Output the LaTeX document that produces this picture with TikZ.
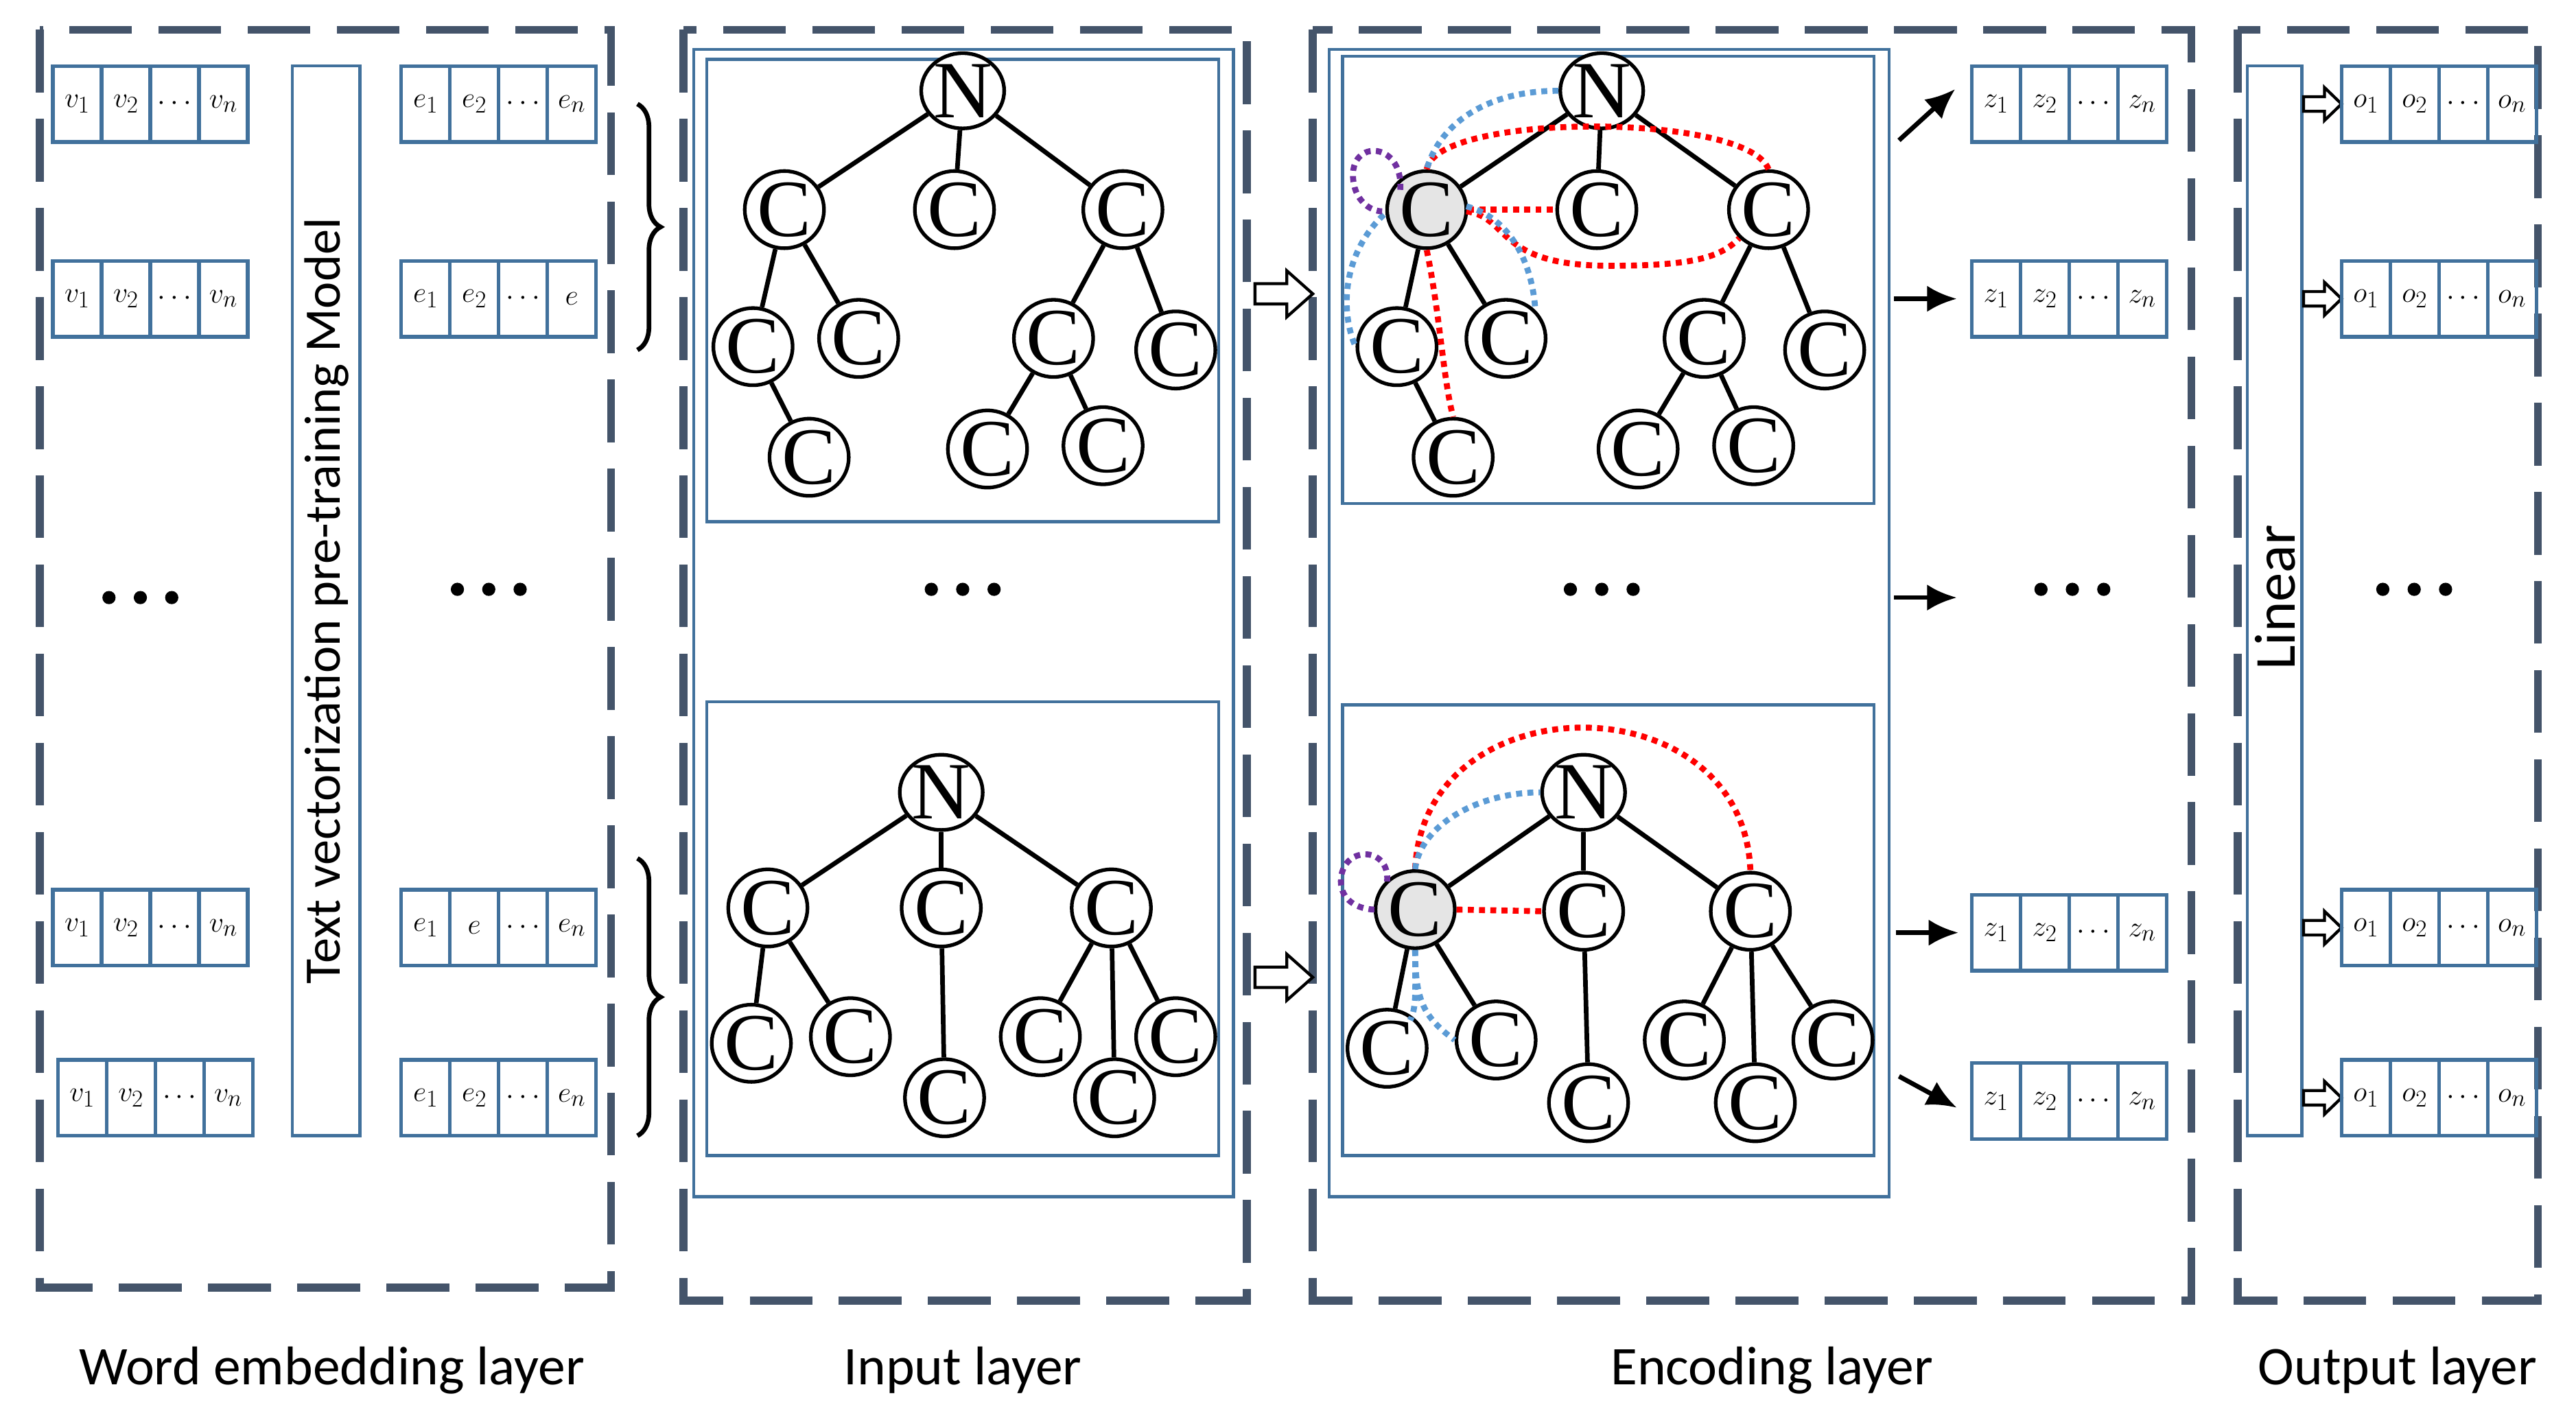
\documentclass[tikz,border=0pt]{standalone}
\usepackage{fontspec}
\setmainfont{Carlito}
\newfontfamily\serifC{Liberation Serif}
\usetikzlibrary{shapes.geometric,decorations.pathreplacing,arrows.meta}
\definecolor{boxblue}{RGB}{65,113,156}
\definecolor{dashgray}{RGB}{68,84,106}
\definecolor{dred}{RGB}{255,0,0}
\definecolor{dblue}{RGB}{91,155,213}
\definecolor{dpurple}{RGB}{112,48,160}
\begin{document}
\begin{tikzpicture}[x=0.5mm,y=-0.5mm,
  layer/.style={draw=dashgray,line width=2.4mm,dash pattern=on 19mm off 8mm},
  bbox/.style={draw=boxblue,line width=0.9mm},
  cell/.style={draw=boxblue,line width=1.1mm,minimum width=14.75mm,minimum height=23mm,inner sep=0pt,font=\fontsize{30}{30}\selectfont},
  tn/.style={ellipse,draw,line width=1.1mm,minimum width=24mm,minimum height=22.5mm,inner sep=0pt,fill=white,font=\serifC\fontsize{70}{70}\selectfont},
  hl/.style={tn,fill=black!10},
  te/.style={line width=1.4mm},
  dt/.style={line width=1.8mm,dash pattern=on 1.8mm off 1.6mm},
  lab/.style={font=\fontsize{47}{47}\selectfont},
  bar/.style={-{Latex[length=9mm,width=8mm]},line width=1.4mm},
  brc/.style={decorate,decoration={brace,amplitude=7mm},line width=1.4mm}]
\useasboundingbox (0,0) rectangle (1560,860);
\newcommand\row[7]{% name x y a b c d
  \node[cell] (#1a) at (#2+14.75,#3) {#4};
  \node[cell] (#1b) at (#2+44.25,#3) {#5};
  \node[cell] (#1c) at (#2+73.75,#3) {#6};
  \node[cell] (#1d) at (#2+103.25,#3) {#7};}
\newcommand\bigdots[3]{\node[inner sep=0pt] (#1) at (#2,#3) {\tikz[x=0.5mm,y=0.5mm]{\fill (-19,0) circle (4); \fill (0,0) circle (4); \fill (19,0) circle (4);}};}
\newcommand\harrow[4]{% x y length height
  \draw[line width=0.9mm,fill=white] (#1,#2-#4*0.22) -- (#1+#3*0.55,#2-#4*0.22) -- (#1+#3*0.55,#2-#4*0.5) -- (#1+#3,#2) -- (#1+#3*0.55,#2+#4*0.5) -- (#1+#3*0.55,#2+#4*0.22) -- (#1,#2+#4*0.22) -- cycle;}

% layers
\draw[layer] (24,18) rectangle (370,780);
\draw[layer] (414,18) rectangle (755,788);
\draw[layer] (795,18) rectangle (1327,788);
\draw[layer] (1355,18) rectangle (1537,788);
\node[lab] (l1) at (201,830) {Word embedding layer};
\node[lab] (l2) at (583,830) {Input layer};
\node[lab] (l3) at (1073,830) {Encoding layer};
\node[lab] (l4) at (1452,830) {Output layer};

% word embedding layer
\row{va}{32}{63}{$v_1$}{$v_2$}{$\cdots$}{$v_n$}
\row{vb}{32}{181}{$v_1$}{$v_2$}{$\cdots$}{$v_n$}
\row{vc}{32}{562}{$v_1$}{$v_2$}{$\cdots$}{$v_n$}
\row{vd}{35}{665}{$v_1$}{$v_2$}{$\cdots$}{$v_n$}
\row{ea}{243}{63}{$e_1$}{$e_2$}{$\cdots$}{$e_n$}
\row{eb}{243}{181}{$e_1$}{$e_2$}{$\cdots$}{$e$}
\row{ec}{243}{562}{$e_1$}{$e$}{$\cdots$}{$e_n$}
\row{ed}{243}{665}{$e_1$}{$e_2$}{$\cdots$}{$e_n$}
\draw[bbox] (177,40) rectangle (218,688);
\node[rotate=90,font=\fontsize{44}{44}\selectfont] (ptm) at (198,364) {Text vectorization pre-training Model};
\bigdots{d1}{85}{362}
\bigdots{d2}{296}{357}
\draw[brc] (386,63) -- (386,212);
\draw[brc] (386,520) -- (386,688);

% input layer
\draw[bbox] (420,30) rectangle (747,725);
\draw[bbox] (428,36) rectangle (738,316);
\draw[bbox] (428,425) rectangle (738,700);
\bigdots{d3}{583}{357}
\node[tn] (iN) at (583,55) {N};
\node[tn] (iC1) at (475,127) {C};
\node[tn] (iC2) at (578,127) {C};
\node[tn] (iC3) at (680,127) {C};
\node[tn] (iC11) at (456,210) {C};
\node[tn] (iC12) at (520,205) {C};
\node[tn] (iC111) at (490,277) {C};
\node[tn] (iC31) at (638,205) {C};
\node[tn] (iC32) at (712,212) {C};
\node[tn] (iC311) at (598,272) {C};
\node[tn] (iC312) at (668,270) {C};
\foreach \a/\b in {iN/iC1,iN/iC2,iN/iC3,iC1/iC11,iC1/iC12,iC11/iC111,iC3/iC31,iC3/iC32,iC31/iC311,iC31/iC312}
  {\draw[te] (\a) -- (\b);}
\node[tn] (jN) at (570,480) {N};
\node[tn] (jC1) at (465,550) {C};
\node[tn] (jC2) at (570,550) {C};
\node[tn] (jC3) at (673,550) {C};
\node[tn] (jC11) at (455,632) {C};
\node[tn] (jC12) at (515,628) {C};
\node[tn] (jC21) at (572,665) {C};
\node[tn] (jC31) at (630,628) {C};
\node[tn] (jC32) at (675,665) {C};
\node[tn] (jC33) at (712,628) {C};
\foreach \a/\b in {jN/jC1,jN/jC2,jN/jC3,jC1/jC11,jC1/jC12,jC2/jC21,jC3/jC31,jC3/jC32,jC3/jC33}
  {\draw[te] (\a) -- (\b);}
\harrow{760}{178}{35}{28}
\harrow{760}{592}{35}{28}

% encoding layer
\draw[bbox] (805,30) rectangle (1144,725);
\draw[bbox] (813,34) rectangle (1135,305);
\draw[bbox] (813,427) rectangle (1135,700);
\bigdots{d4}{970}{357}
\node[tn] (eN) at (970,55) {N};
\node[hl] (eC1) at (864,127) {C};
\node[tn] (eC2) at (967,127) {C};
\node[tn] (eC3) at (1071,127) {C};
\node[tn] (eC11) at (846,210) {C};
\node[tn] (eC12) at (912,205) {C};
\node[tn] (eC111) at (880,277) {C};
\node[tn] (eC31) at (1032,205) {C};
\node[tn] (eC32) at (1105,212) {C};
\node[tn] (eC311) at (992,272) {C};
\node[tn] (eC312) at (1062,270) {C};
\foreach \a/\b in {eN/eC1,eN/eC2,eN/eC3,eC1/eC11,eC1/eC12,eC11/eC111,eC3/eC31,eC3/eC32,eC31/eC311,eC31/eC312}
  {\draw[te] (\a) -- (\b);}
\draw[dt,dred] (eC1.north) .. controls (870,68) and (1058,68) .. (eC3.north);
\draw[dt,dred] (eC1.east) -- (eC2.west);
\draw[dt,dred] (888,128) .. controls (915,132) and (905,161) .. (975,161) .. controls (1025,161) and (1042,156) .. (eC3.south west);
\draw[dt,dred] (eC1.south) .. controls (872,190) and (874,230) .. (eC111.north);
\draw[dt,dblue] (eN.west) .. controls (900,55) and (872,75) .. (eC1.north);
\draw[dt,dblue] (888,125) .. controls (915,132) and (928,160) .. (eC12.north east);
\draw[dt,dblue] (838,130) .. controls (812,155) and (812,190) .. (eC11.west);
\draw[dt,dpurple] (848,115) .. controls (850,84) and (814,84) .. (820,112) .. controls (822,122) and (830,128) .. (837,128);

\node[tn] (fN) at (959,480) {N};
\node[hl] (fC1) at (857,551) {C};
\node[tn] (fC2) at (959,552) {C};
\node[tn] (fC3) at (1060,552) {C};
\node[tn] (fC11) at (840,635) {C};
\node[tn] (fC12) at (906,630) {C};
\node[tn] (fC21) at (962,668) {C};
\node[tn] (fC31) at (1020,630) {C};
\node[tn] (fC32) at (1063,668) {C};
\node[tn] (fC33) at (1110,630) {C};
\foreach \a/\b in {fN/fC1,fN/fC2,fN/fC3,fC1/fC11,fC1/fC12,fC2/fC21,fC3/fC31,fC3/fC32,fC3/fC33}
  {\draw[te] (\a) -- (\b);}
\draw[dt,dred] (fC1.north) .. controls (862,412) and (1056,412) .. (fC3.north);
\draw[dt,dblue] (fC1.north) .. controls (860,500) and (895,480) .. (fN.west);
\draw[dt,dred] (fC1.east) -- (fC2.west);
\draw[dt,dblue] (fC1.south) .. controls (857,600) and (858,610) .. (854,618);
\draw[dt,dblue] (fC1.south) .. controls (857,606) and (862,616) .. (fC12.west);
\draw[dt,dpurple] (840,534) .. controls (842,512) and (812,512) .. (812,534) .. controls (812,545) and (822,551) .. (833,551);

% arrows to z
\coordinate (a1-s) at (1150,85); \coordinate (a1-e) at (1184,54);
\coordinate (a2-s) at (1147,181); \coordinate (a2-e) at (1185,181);
\coordinate (a3-s) at (1147,362); \coordinate (a3-e) at (1185,362);
\coordinate (a4-s) at (1148,565); \coordinate (a4-e) at (1186,565);
\coordinate (a5-s) at (1150,652); \coordinate (a5-e) at (1185,671);
\foreach \i in {1,...,5} {\draw[bar] (a\i-s) -- (a\i-e);}
\row{za}{1194}{63}{$z_1$}{$z_2$}{$\cdots$}{$z_n$}
\row{zb}{1194}{181}{$z_1$}{$z_2$}{$\cdots$}{$z_n$}
\row{zc}{1194}{565}{$z_1$}{$z_2$}{$\cdots$}{$z_n$}
\row{zd}{1194}{667}{$z_1$}{$z_2$}{$\cdots$}{$z_n$}
\bigdots{d5}{1255}{357}

% output layer
\draw[bbox] (1361,40) rectangle (1394,688);
\node[rotate=90,font=\fontsize{50}{50}\selectfont] (lin) at (1378,362) {Linear};
\harrow{1395}{63}{23}{20}
\harrow{1395}{181}{23}{20}
\harrow{1395}{562}{23}{20}
\harrow{1395}{665}{23}{20}
\row{oa}{1418}{63}{$o_1$}{$o_2$}{$\cdots$}{$o_n$}
\row{ob}{1418}{181}{$o_1$}{$o_2$}{$\cdots$}{$o_n$}
\row{oc}{1418}{562}{$o_1$}{$o_2$}{$\cdots$}{$o_n$}
\row{od}{1418}{665}{$o_1$}{$o_2$}{$\cdots$}{$o_n$}
\bigdots{d6}{1462}{357}
\end{tikzpicture}
\end{document}
